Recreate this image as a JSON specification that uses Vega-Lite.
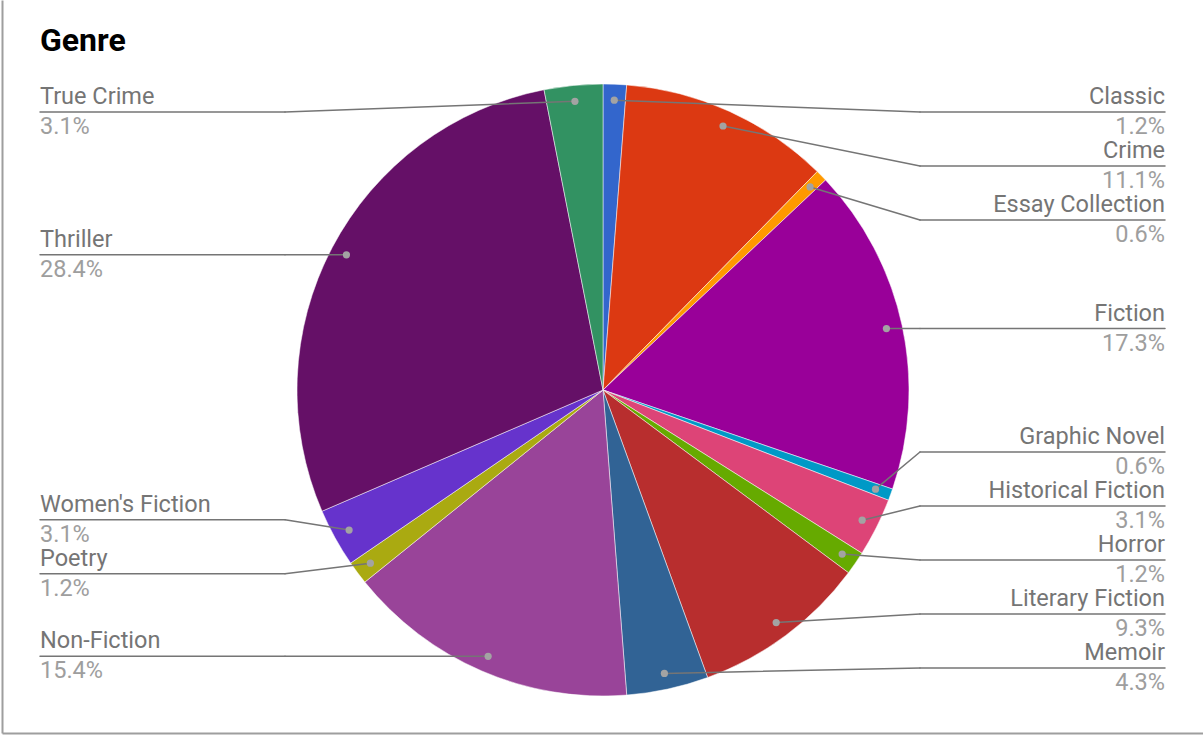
{
  "$schema": "https://vega.github.io/schema/vega-lite/v6.json",
  "autosize": "none",
  "width": 1201,
  "height": 733,
  "padding": {"left": 2, "top": 0, "right": 0, "bottom": 2},
  "background": "white",
  "title": {"text": "Genre", "anchor": "start", "font": "Roboto", "fontSize": 32, "fontWeight": "bold", "color": "#000000", "dx": 38, "offset": -83, "baseline": "alphabetic"},
  "data": {"values": [
    {"genre": "Classic", "count": 2},
    {"genre": "Crime", "count": 18},
    {"genre": "Essay Collection", "count": 1},
    {"genre": "Fiction", "count": 28},
    {"genre": "Graphic Novel", "count": 1},
    {"genre": "Historical Fiction", "count": 5},
    {"genre": "Horror", "count": 2},
    {"genre": "Literary Fiction", "count": 15},
    {"genre": "Memoir", "count": 7},
    {"genre": "Non-Fiction", "count": 25},
    {"genre": "Poetry", "count": 2},
    {"genre": "Women's Fiction", "count": 5},
    {"genre": "Thriller", "count": 46},
    {"genre": "True Crime", "count": 5}
  ]},
  "transform": [
    {"window": [{"op": "row_number", "as": "idx"}]},
    {"joinaggregate": [{"op": "sum", "field": "count", "as": "total"}]},
    {"window": [{"op": "sum", "field": "count", "as": "cum"}], "sort": [{"field": "idx", "order": "ascending"}], "frame": [null, 0]},
    {"calculate": "2*PI*(datum.cum - datum.count/2)/datum.total", "as": "ang"},
    {"calculate": "290*sin(datum.ang)", "as": "px"},
    {"calculate": "-290*cos(datum.ang)", "as": "py"},
    {"calculate": "datum.ang < PI ? 'R' : 'L'", "as": "side"},
    {"calculate": "datum.count/datum.total", "as": "pct"},
    {"window": [{"op": "row_number", "as": "rk"}], "groupby": ["side"], "sort": [{"field": "py", "order": "ascending"}]},
    {"joinaggregate": [{"op": "count", "as": "n"}], "groupby": ["side"]},
    {"calculate": "datum.py - 54*(datum.rk-1)", "as": "u"},
    {"window": [{"op": "max", "field": "u", "as": "fmax"}], "groupby": ["side"], "sort": [{"field": "py", "order": "ascending"}], "frame": [null, 0]},
    {"window": [{"op": "min", "field": "u", "as": "bmin"}], "groupby": ["side"], "sort": [{"field": "py", "order": "ascending"}], "frame": [0, null]},
    {"calculate": "(datum.fmax + datum.bmin)/2", "as": "u2"},
    {"window": [{"op": "max", "field": "u2", "as": "fm2"}], "groupby": ["side"], "sort": [{"field": "py", "order": "ascending"}], "frame": [null, 0]},
    {"calculate": "max(-278, datum.fm2)", "as": "u3"},
    {"window": [{"op": "min", "field": "u3", "as": "bm3"}], "groupby": ["side"], "sort": [{"field": "py", "order": "ascending"}], "frame": [0, null]},
    {"calculate": "54*(datum.rk-1) + min(datum.bm3, 278 - 54*(datum.n-1))", "as": "ly"},
    {"calculate": "datum.side == 'R' ? 317 : -318", "as": "ex"},
    {"calculate": "datum.side == 'R' ? 562 : -563", "as": "tx"}
  ],
  "layer": [
    {
      "mark": {"type": "arc", "outerRadius": 306, "stroke": "#ffffff", "strokeWidth": 0.5},
      "encoding": {
        "theta": {"field": "count", "type": "quantitative", "stack": true},
        "order": {"field": "idx", "type": "quantitative", "sort": "ascending"},
        "color": {"field": "genre", "type": "nominal", "legend": null,
          "scale": {
            "domain": ["Classic", "Crime", "Essay Collection", "Fiction", "Graphic Novel", "Historical Fiction", "Horror", "Literary Fiction", "Memoir", "Non-Fiction", "Poetry", "Women's Fiction", "Thriller", "True Crime"],
            "range": ["#3366cc", "#dc3912", "#ff9900", "#990099", "#0099c6", "#dd4477", "#66aa00", "#b82e2e", "#316395", "#994499", "#aaaa11", "#6633cc", "#651067", "#329262"]
          }},
        "x": {"datum": 0, "type": "quantitative", "title": null, "scale": {"domain": [-601, 600], "nice": false, "zero": false}},
        "y": {"datum": 0, "type": "quantitative", "title": null, "scale": {"domain": [-390, 343], "reverse": true, "nice": false, "zero": false}}
      }
    },
    {
      "mark": {"type": "rule", "color": "#757575", "strokeWidth": 1.5, "strokeCap": "round"},
      "encoding": {
        "x": {"field": "px", "type": "quantitative", "title": null, "scale": {"domain": [-601, 600], "nice": false, "zero": false}},
        "y": {"field": "py", "type": "quantitative", "title": null, "scale": {"domain": [-390, 343], "reverse": true, "nice": false, "zero": false}},
        "x2": {"field": "ex"},
        "y2": {"field": "ly"}
      }
    },
    {
      "mark": {"type": "rule", "color": "#757575", "strokeWidth": 1.5, "strokeCap": "round"},
      "encoding": {
        "x": {"field": "ex", "type": "quantitative", "title": null, "scale": {"domain": [-601, 600], "nice": false, "zero": false}},
        "y": {"field": "ly", "type": "quantitative", "title": null, "scale": {"domain": [-390, 343], "reverse": true, "nice": false, "zero": false}},
        "x2": {"field": "tx"}
      }
    },
    {
      "mark": {"type": "circle", "color": "#a3a3a3", "opacity": 1, "size": 52},
      "encoding": {
        "x": {"field": "px", "type": "quantitative", "title": null, "scale": {"domain": [-601, 600], "nice": false, "zero": false}},
        "y": {"field": "py", "type": "quantitative", "title": null, "scale": {"domain": [-390, 343], "reverse": true, "nice": false, "zero": false}}
      }
    },
    {
      "transform": [{"filter": "datum.side == 'R'"}],
      "mark": {"type": "text", "align": "right", "baseline": "alphabetic", "dy": -8, "font": "Roboto", "fontSize": 23.5, "color": "#757575"},
      "encoding": {
        "x": {"field": "tx", "type": "quantitative", "title": null, "scale": {"domain": [-601, 600], "nice": false, "zero": false}},
        "y": {"field": "ly", "type": "quantitative", "title": null, "scale": {"domain": [-390, 343], "reverse": true, "nice": false, "zero": false}},
        "text": {"field": "genre", "type": "nominal"}
      }
    },
    {
      "transform": [{"filter": "datum.side == 'R'"}],
      "mark": {"type": "text", "align": "right", "baseline": "alphabetic", "dy": 22, "font": "Roboto", "fontSize": 23.5, "color": "#9e9e9e"},
      "encoding": {
        "x": {"field": "tx", "type": "quantitative", "title": null, "scale": {"domain": [-601, 600], "nice": false, "zero": false}},
        "y": {"field": "ly", "type": "quantitative", "title": null, "scale": {"domain": [-390, 343], "reverse": true, "nice": false, "zero": false}},
        "text": {"field": "pct", "type": "quantitative", "format": ".1%"}
      }
    },
    {
      "transform": [{"filter": "datum.side == 'L'"}],
      "mark": {"type": "text", "align": "left", "baseline": "alphabetic", "dy": -8, "font": "Roboto", "fontSize": 23.5, "color": "#757575"},
      "encoding": {
        "x": {"field": "tx", "type": "quantitative", "title": null, "scale": {"domain": [-601, 600], "nice": false, "zero": false}},
        "y": {"field": "ly", "type": "quantitative", "title": null, "scale": {"domain": [-390, 343], "reverse": true, "nice": false, "zero": false}},
        "text": {"field": "genre", "type": "nominal"}
      }
    },
    {
      "transform": [{"filter": "datum.side == 'L'"}],
      "mark": {"type": "text", "align": "left", "baseline": "alphabetic", "dy": 22, "font": "Roboto", "fontSize": 23.5, "color": "#9e9e9e"},
      "encoding": {
        "x": {"field": "tx", "type": "quantitative", "title": null, "scale": {"domain": [-601, 600], "nice": false, "zero": false}},
        "y": {"field": "ly", "type": "quantitative", "title": null, "scale": {"domain": [-390, 343], "reverse": true, "nice": false, "zero": false}},
        "text": {"field": "pct", "type": "quantitative", "format": ".1%"}
      }
    }
  ],
  "config": {
    "view": {"stroke": null},
    "axis": {"domain": true, "domainColor": "#9e9e9e", "domainWidth": 2, "ticks": false, "labels": false, "grid": false}
  }
}
